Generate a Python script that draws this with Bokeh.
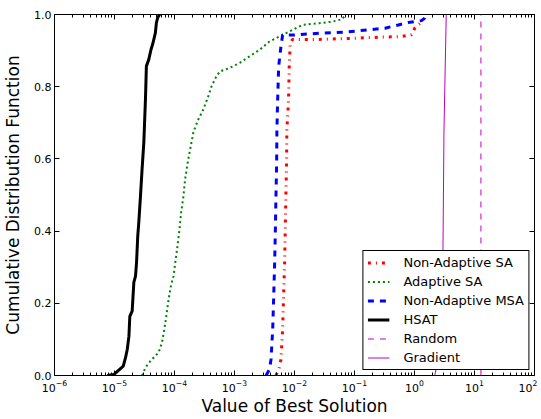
from bokeh.plotting import figure
from bokeh.models import (LogAxis, LinearAxis, FixedTicker, LogTickFormatter,
                          PrintfTickFormatter, Range1d)
from bokeh.embed import file_html
from bokeh.resources import INLINE

# ---------------- data ----------------
nasa_x = [4.91e-3, 5.58e-3, 5.94e-3, 6.34e-3, 6.58e-3, 6.84e-3, 7.01e-3, 7.18e-3,
          7.38e-3, 7.46e-3, 7.96e-3, 8.17e-3, 8.49e-3, 9.27e-3, 2.56e-2, 9.10e-2,
          0.251, 0.610, 0.891, 1.01, 1.15, 1.25]
nasa_y = [0.0, 0.022, 0.044, 0.127, 0.219, 0.313, 0.404, 0.497,
          0.590, 0.681, 0.764, 0.857, 0.920, 0.931, 0.931, 0.934,
          0.937, 0.939, 0.944, 0.962, 0.971, 0.976]

asa_x = [2.88e-5, 3.28e-5, 3.96e-5, 5.45e-5, 6.17e-5, 6.76e-5, 7.29e-5, 7.96e-5,
         8.69e-5, 9.62e-5, 1.03e-4, 1.12e-4, 1.21e-4, 1.29e-4, 1.41e-4, 1.50e-4,
         1.66e-4, 1.82e-4, 2.06e-4, 2.20e-4, 2.49e-4, 3.01e-4, 3.65e-4, 4.14e-4,
         5.00e-4, 5.69e-4, 8.34e-4, 1.22e-3, 1.78e-3, 2.61e-3, 3.82e-3, 5.58e-3,
         8.17e-3, 1.36e-2, 2.56e-2, 4.25e-2, 6.21e-2, 7.2e-2]
asa_y = [0.0, 0.022, 0.040, 0.064, 0.091, 0.127, 0.164, 0.210,
         0.247, 0.275, 0.313, 0.358, 0.404, 0.451, 0.497, 0.543,
         0.590, 0.626, 0.673, 0.686, 0.709, 0.736, 0.773, 0.801,
         0.829, 0.842, 0.852, 0.866, 0.884, 0.902, 0.925, 0.939,
         0.953, 0.971, 0.976, 0.980, 0.987, 1.0]

namsa_x = [3.36e-3, 3.82e-3, 4.06e-3, 4.33e-3, 4.50e-3, 4.67e-3, 4.80e-3, 4.91e-3,
           5.04e-3, 5.09e-3, 5.24e-3, 5.45e-3, 5.94e-3, 6.34e-3, 9.27e-3, 2.56e-2,
           7.05e-2, 0.117, 0.323, 0.538, 0.787, 1.31, 1.48, 1.52]
namsa_y = [0.0, 0.017, 0.044, 0.127, 0.219, 0.313, 0.404, 0.497,
           0.590, 0.681, 0.764, 0.857, 0.911, 0.943, 0.943, 0.948,
           0.951, 0.955, 0.962, 0.971, 0.978, 0.983, 0.990, 1.0]

hsat_x = [7.60e-6, 9.82e-6, 1.40e-5, 1.53e-5, 1.63e-5, 1.74e-5, 1.80e-5, 1.97e-5,
          2.10e-5, 2.24e-5, 2.33e-5, 2.44e-5, 2.54e-5, 2.71e-5, 2.88e-5, 3.08e-5,
          3.28e-5, 3.40e-5, 3.72e-5, 4.06e-5, 4.38e-5, 4.80e-5, 4.99e-5, 5.24e-5, 5.65e-5]
hsat_y = [0.0, 0.003, 0.026, 0.050, 0.072, 0.109, 0.164, 0.178,
          0.258, 0.275, 0.313, 0.386, 0.424, 0.497, 0.571, 0.645,
          0.765, 0.857, 0.875, 0.903, 0.921, 0.949, 0.977, 0.991, 1.0]

random_x = [12.8, 12.8]
random_y = [0.0, 1.0]

gradient_x = [2.17, 2.31, 2.98, 3.10, 3.38]
gradient_y = [0.0, 0.02, 0.34, 0.68, 1.0]

x_major_ticks = [1e-6, 1e-5, 1e-4, 1e-3, 1e-2, 1e-1, 1e0, 1e1, 1e2]
x_minor_ticks = [m * 10.0 ** e for e in range(-6, 2) for m in range(2, 10)]
y_ticks = [0.0, 0.2, 0.4, 0.6, 0.8, 1.0]

FONT = "DejaVu Sans"

p = figure(x_axis_type="log", x_range=Range1d(1e-6, 1e2), y_range=Range1d(0, 1),
           width=537, height=418,
           output_backend="svg", toolbar_location=None,
           min_border_left=50, min_border_right=3, min_border_top=14, min_border_bottom=42,
           x_axis_label="Value of Best Solution",
           y_axis_label="Cumulative Distribution Function")
p.xgrid.visible = False
p.ygrid.visible = False
p.outline_line_color = "black"
p.outline_line_width = 1
p.outline_line_alpha = 1.0


def style_axis(ax):
    ax.axis_line_color = None
    ax.major_tick_in = 5
    ax.major_tick_out = 0
    ax.minor_tick_in = 3
    ax.minor_tick_out = 0
    ax.major_tick_line_color = "black"
    ax.minor_tick_line_color = "black"
    ax.major_label_text_font = FONT
    ax.major_label_text_color = "black"
    ax.axis_label_text_font = FONT
    ax.axis_label_text_font_style = "normal"
    ax.axis_label_text_font_size = "17px"
    ax.axis_label_text_color = "black"


# bottom axis
xa = p.xaxis[0]
xa.ticker = FixedTicker(ticks=x_major_ticks, minor_ticks=x_minor_ticks)
xa.formatter = LogTickFormatter()
style_axis(xa)
xa.major_label_text_font_size = "11px"
xa.major_label_standoff = 4
xa.axis_label_standoff = 1

# left axis
ya = p.yaxis[0]
ya.ticker = FixedTicker(ticks=y_ticks)
ya.formatter = PrintfTickFormatter(format="%.1f")
style_axis(ya)
ya.minor_tick_line_color = None
ya.major_label_text_font_size = "11px"
ya.major_label_standoff = 3
ya.axis_label_standoff = 8

# top axis (ticks only)
top = LogAxis(ticker=FixedTicker(ticks=x_major_ticks, minor_ticks=x_minor_ticks))
style_axis(top)
top.major_label_text_font_size = "1px"
top.major_label_text_color = None
top.major_label_standoff = 0
p.add_layout(top, "above")

# right axis (ticks only)
right = LinearAxis(ticker=FixedTicker(ticks=y_ticks))
style_axis(right)
right.minor_tick_line_color = None
right.major_label_text_font_size = "1px"
right.major_label_text_color = None
right.major_label_standoff = 0
p.add_layout(right, "right")

MAG = "#bf00bf"
p.line(nasa_x, nasa_y, line_color="#ff0000", line_width=3, line_dash="3 5 1 5",
       legend_label="Non-Adaptive SA")
p.line(asa_x, asa_y, line_color="#008000", line_width=2, line_dash="2 3",
       legend_label="Adaptive SA")
p.line(namsa_x, namsa_y, line_color="#0000ff", line_width=3, line_dash="6 6",
       legend_label="Non-Adaptive MSA")
p.line(hsat_x, hsat_y, line_color="black", line_width=3, legend_label="HSAT")
p.line(random_x, random_y, line_color=MAG, line_width=1, line_dash="6 6",
       legend_label="Random")
p.line(gradient_x, gradient_y, line_color=MAG, line_width=1, legend_label="Gradient")

lg = p.legend[0]
lg.location = "bottom_right"
lg.margin = 5
lg.padding = 4
lg.spacing = 4
lg.label_height = 15
lg.glyph_height = 15
lg.glyph_width = 22
lg.label_standoff = 14
lg.label_text_font = FONT
lg.label_text_font_size = "13px"
lg.label_text_color = "black"
lg.border_line_color = "black"
lg.border_line_width = 1
lg.border_line_alpha = 1.0
lg.background_fill_color = "white"
lg.background_fill_alpha = 1.0

open("out.html", "w").write(file_html(p, INLINE))
